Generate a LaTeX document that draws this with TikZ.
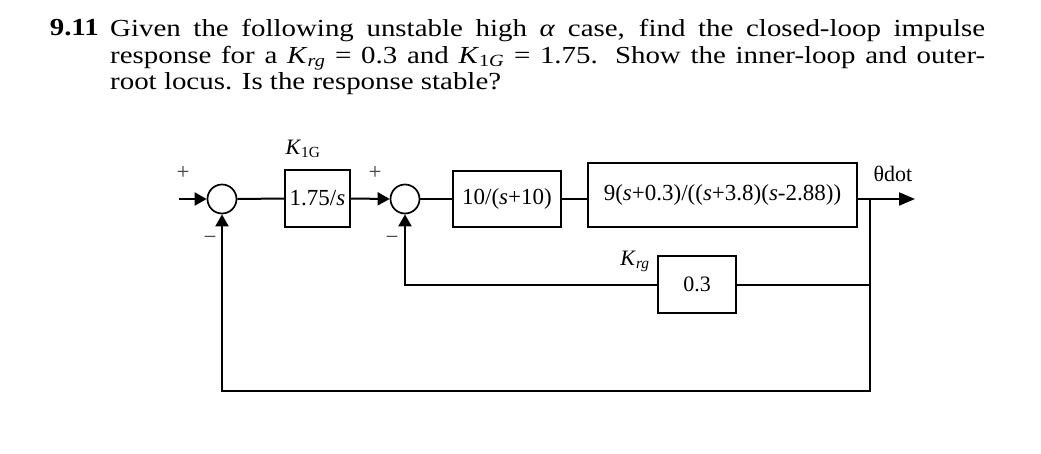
\documentclass[tikz,border=0pt]{standalone}
\usepackage{fontspec}
\setmainfont{Liberation Serif}
\newfontfamily\taskfont[FakeStretch=1.18]{Liberation Serif}
\usetikzlibrary{positioning, arrows.meta}

\begin{document}
\begin{tikzpicture}[
    x=1pt, y=-1pt,
    block/.style={draw, rectangle, line width=1.7pt, inner sep=0pt,
        font=\fontsize{23}{26}\selectfont},
    junction/.style={draw, circle, line width=1.7pt, minimum size=29pt, inner sep=0pt},
    sign/.style={font=\fontsize{23}{23}\selectfont, text=black!75},
    gainlabel/.style={font=\fontsize{22}{22}\selectfont},
    wire/.style={line width=2pt},
    signal/.style={wire, -{Triangle[length=12pt, width=13pt]}},
    outsignal/.style={wire, -{Triangle[length=16pt, width=13pt]}}
]
\useasboundingbox (0,0) rectangle (1041,453);

% problem text
\node[
    anchor=north west,
    text width=875pt,
    align=justify,   % <-- first two lines filled out to the right edge
    inner sep=0pt,
    font=\taskfont\fontsize{24.5}{26.7}\selectfont
] (task) at (110,19) {\hyphenpenalty=10000
    Given the following unstable high \textit{α} case, find the closed-loop impulse\linebreak
    response for a \textit{K}\textsubscript{\textit{rg}}~= 0.3 and \textit{K}\textsubscript{1\textit{G}}~= 1.75. Show the inner-loop and outer-\linebreak
    root locus. Is the response stable?
};
\node[anchor=north east, inner sep=0pt, font=\taskfont\fontsize{24.5}{26.7}\selectfont\bfseries]
    (number) at (99,19) {9.11};

% blocks and summing points
\node[junction] (sumouter) at (222,199) {};
\node[junction] (suminner) at (405,199) {};
\node[block, minimum width=65pt, minimum height=57pt] (integ) at (317.5,198.5) {1.75/\textit{s}};
\node[block, minimum width=108pt, minimum height=56pt] (lag) at (507,199) {10/(\textit{s}+10)};
\node[block, minimum width=269pt, minimum height=64pt] (plant) at (722.5,195)
    {9(\textit{s}+0.3)/((\textit{s}+3.8)(\textit{s}-2.88))};
\node[block, minimum width=78pt, minimum height=57pt,
    font=\fontsize{22}{24}\selectfont] (rategain) at (697,284.5) {0.3};

\coordinate (input) at (179,199);
\coordinate (branch) at (870,199);
\coordinate (output) at (915,199);
\coordinate (tap) at (870,284.5);
\coordinate (cornerright) at (870,391);
\coordinate (cornerleft) at (222,391);

% forward path
\draw[signal] (input) -- (sumouter.west);
\draw[wire] (sumouter.east) -- (integ.west);
\draw[signal] (integ.east) -- (suminner.west);
\draw[wire] (suminner.east) -- (lag.west);
\draw[wire] (lag.east) -- (lag.east -| plant.west);
\draw[outsignal] (lag.east -| plant.east) -- (output);

% feedback loops
\draw[wire] (branch) -- (tap) -- (rategain.east);
\draw[signal] (rategain.west) -- (rategain.west -| suminner.south) -- (suminner.south);
\draw[signal] (tap) -- (cornerright) -- (cornerleft) -- (sumouter.south);

% labels
\node[sign] (plusouter) at (183,173) {+};
\node[sign] (minusouter) at (210,240) {−};
\node[sign] (plusinner) at (375,173) {+};
\node[sign] (minusinner) at (392,240) {−};
\node[gainlabel] (kig) at (303,149) {\textit{K}\textsubscript{1G}};
\node[gainlabel] (krg) at (635,261) {\textit{K}\textsubscript{\textit{rg}}};
\node[gainlabel] (thetadot) at (893,174) {θdot};
\end{tikzpicture}
\end{document}
